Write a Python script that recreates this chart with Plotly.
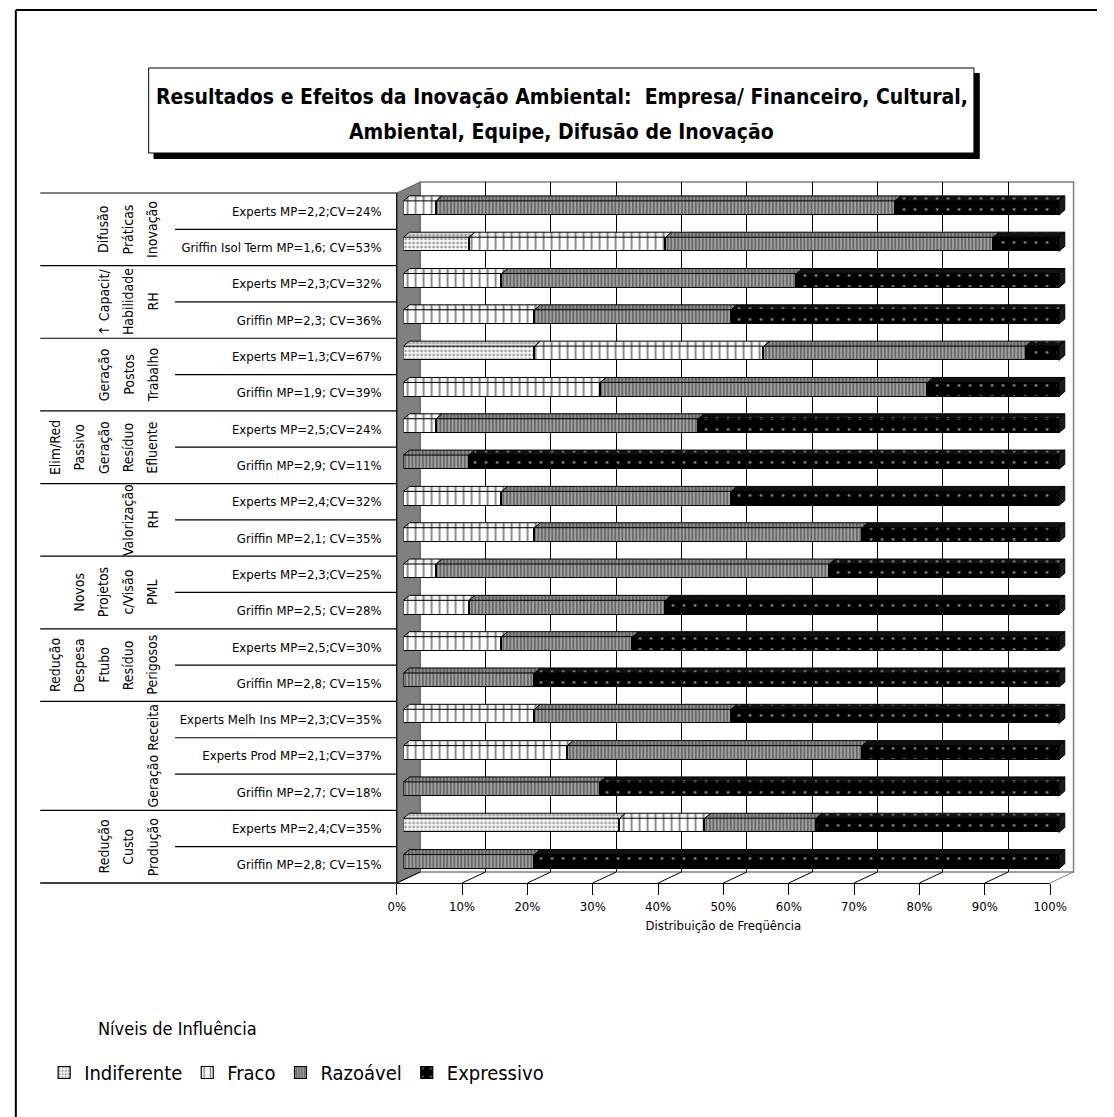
import plotly.graph_objects as go

# ---------------- data ----------------
categories = [
    "Experts MP=2,2;CV=24%",
    "Griffin Isol Term MP=1,6; CV=53%",
    "Experts MP=2,3;CV=32%",
    "Griffin MP=2,3; CV=36%",
    "Experts MP=1,3;CV=67%",
    "Griffin MP=1,9; CV=39%",
    "Experts MP=2,5;CV=24%",
    "Griffin MP=2,9; CV=11%",
    "Experts MP=2,4;CV=32%",
    "Griffin MP=2,1; CV=35%",
    "Experts MP=2,3;CV=25%",
    "Griffin MP=2,5; CV=28%",
    "Experts MP=2,5;CV=30%",
    "Griffin MP=2,8; CV=15%",
    "Experts Melh Ins MP=2,3;CV=35%",
    "Experts Prod MP=2,1;CV=37%",
    "Griffin MP=2,7; CV=18%",
    "Experts MP=2,4;CV=35%",
    "Griffin MP=2,8; CV=15%",
]
indiferente = [0, 10, 0, 0, 20, 0, 0, 0, 0, 0, 0, 0, 0, 0, 0, 0, 0, 33, 0]
fraco       = [5, 30, 15, 20, 35, 30, 5, 0, 15, 20, 5, 10, 15, 0, 20, 25, 0, 13, 0]
razoavel    = [70, 50, 45, 30, 40, 50, 40, 10, 35, 50, 60, 30, 20, 20, 30, 45, 30, 17, 20]
expressivo  = [25, 10, 40, 50, 5, 20, 55, 90, 50, 30, 35, 60, 65, 80, 50, 30, 70, 37, 80]
level_names = ["Indiferente", "Fraco", "Razoável", "Expressivo"]

group_labels = [
    ["Difusão", "Práticas", "Inovação"],
    ["↑ Capacit/", "Habilidade", "RH"],
    ["Geração", "Postos", "Trabalho"],
    ["Elim/Red", "Passivo", "Geração", "Resíduo", "Efluente"],
    ["Valorização", "RH"],
    ["Novos", "Projetos", "c/Visão", "PML"],
    ["Redução", "Despesa", "Ftubo", "Resíduo", "Perigosos"],
    ["Geração Receita"],
    ["Redução", "Custo", "Produção"],
]
group_sizes = [2, 2, 2, 2, 2, 2, 2, 3, 2]

x_ticks = [0, 10, 20, 30, 40, 50, 60, 70, 80, 90, 100]
x_ticktext = ["0%", "10%", "20%", "30%", "40%", "50%", "60%", "70%", "80%", "90%", "100%"]

title_lines = ["Resultados e Efeitos da Inovação Ambiental:  Empresa/ Financeiro, Cultural,",
               "Ambiental, Equipe, Difusão de Inovação"]
x_title = "Distribuição de Freqüência"
legend_title = "Níveis de Influência"

# ---------------- geometry / style ----------------
W, H = 1114, 1117
FONT = "Liberation Sans Narrow, DejaVu Sans Condensed, Arial Narrow, Roboto, sans-serif"


def px(x):
    return x / W


def py(y):
    return 1 - y / H


n = len(categories)
TABLE_TOP, TABLE_BOT = 193, 883
ROW_H = (TABLE_BOT - TABLE_TOP) / n
BAR_X0, PX_PER_PCT = 404, 6.71
XMAX = 102.0
WALL_X0, WALL_X1, WALL_TOP, WALL_BOT = 421, 1090, 182, 872
FLOOR_X0, FLOOR_X1, FLOOR_Y = 397, 1066, 883

BAR_W = 0.39
SHIFT = -3.2 / ROW_H
OFFSET = -BAR_W / 2 + SHIFT
DX = 6 / PX_PER_PCT
DY = 5 / ROW_H

patterns = [
    dict(shape=".", fgcolor="#444444", bgcolor="#ffffff", size=4, solidity=0.4),
    dict(shape="|", fgcolor="#000000", bgcolor="#ffffff", size=8, solidity=0.22),
    dict(shape="|", fgcolor="#1a1a1a", bgcolor="#a0a0a0", size=3.5, solidity=0.42),
    dict(shape=".", fgcolor="#ffffff", bgcolor="#000000", size=11, solidity=0.05),
]
top_patterns = [
    dict(shape=".", fgcolor="#555555", bgcolor="#e6e6e6", size=4, solidity=0.4),
    dict(shape="|", fgcolor="#000000", bgcolor="#f0f0f0", size=8, solidity=0.22),
    dict(shape="|", fgcolor="#222222", bgcolor="#8c8c8c", size=3.5, solidity=0.42),
    dict(shape=".", fgcolor="#cccccc", bgcolor="#111111", size=11, solidity=0.05),
]

levels = [indiferente, fraco, razoavel, expressivo]
rows = list(range(n))

fig = go.Figure()

# invisible helper traces that create the wall subplot (x,y) and the front axis subplot (x3,y3)
fig.add_trace(go.Scatter(x=[0, 100], y=[0, 1], mode="markers", marker=dict(opacity=0),
                         xaxis="x", yaxis="y", showlegend=False, hoverinfo="skip"))
fig.add_trace(go.Scatter(x=[0, 100], y=[0, 0], mode="markers", marker=dict(opacity=0),
                         xaxis="x3", yaxis="y3", showlegend=False, hoverinfo="skip"))

# stacked bars (front faces)
for name, vals, pat in zip(level_names, levels, patterns):
    fig.add_trace(go.Bar(
        y=rows, x=vals, name=name, orientation="h",
        width=BAR_W, offset=OFFSET,
        marker=dict(color=pat["bgcolor"], pattern=pat,
                    line=dict(color="black", width=1.2)),
        xaxis="x2", yaxis="y2", hoverinfo="skip",
    ))

# top faces (3D effect) computed from the stacked values
cum = [0.0] * n
for vals, pat in zip(levels, top_patterns):
    xs, ys = [], []
    for i in rows:
        a, b = cum[i], cum[i] + vals[i]
        if vals[i] > 0:
            yt = i + OFFSET
            xs += [a, a + DX, b + DX, b, a, None]
            ys += [yt, yt - DY, yt - DY, yt, yt, None]
        cum[i] = b
    fig.add_trace(go.Scatter(
        x=xs, y=ys, mode="lines", fill="toself",
        fillcolor=pat["bgcolor"], fillpattern=pat,
        line=dict(color="black", width=1),
        xaxis="x2", yaxis="y2", showlegend=False, hoverinfo="skip",
    ))

# right-end side faces
xs, ys = [], []
for i in rows:
    e = cum[i]
    yt = i + OFFSET
    yb = yt + BAR_W
    xs += [e, e + DX, e + DX, e, e, None]
    ys += [yt, yt - DY, yb - DY, yb, yt, None]
fig.add_trace(go.Scatter(x=xs, y=ys, mode="lines", fill="toself", fillcolor="#1a1a1a",
                         line=dict(color="black", width=1), xaxis="x2", yaxis="y2",
                         showlegend=False, hoverinfo="skip"))

# ---------------- shapes ----------------
shapes = []
# outer frame (top and left edges visible)
shapes.append(dict(type="line", xref="paper", yref="paper", x0=px(7), x1=1,
                   y0=py(10), y1=py(10), line=dict(color="black", width=2)))
shapes.append(dict(type="line", xref="paper", yref="paper", x0=px(7), x1=px(7),
                   y0=py(10), y1=0, line=dict(color="black", width=2)))
# title box with shadow
shapes.append(dict(type="rect", xref="paper", yref="paper", x0=px(148), x1=px(994),
                   y0=py(159), y1=py(73), fillcolor="black", line=dict(width=0)))
shapes.append(dict(type="rect", xref="paper", yref="paper", x0=px(143), x1=px(988),
                   y0=py(153), y1=py(68), fillcolor="white", line=dict(color="black", width=1)))
# back wall
shapes.append(dict(type="rect", xref="x domain", yref="y domain", x0=0, x1=1, y0=0, y1=1,
                   fillcolor="white", line=dict(color="#808080", width=1.5), layer="below"))
# left grey side wall
shapes.append(dict(type="path", xref="paper", yref="paper", layer="below",
                   path=f"M{px(FLOOR_X0)},{py(TABLE_TOP)} L{px(WALL_X0)},{py(WALL_TOP)} "
                        f"L{px(WALL_X0)},{py(WALL_BOT)} L{px(FLOOR_X0)},{py(FLOOR_Y)} Z",
                   fillcolor="#808080", line=dict(color="#606060", width=1)))
# floor diagonals
for t in x_ticks:
    xf = FLOOR_X0 + (FLOOR_X1 - FLOOR_X0) * t / 100
    xb = WALL_X0 + (WALL_X1 - WALL_X0) * t / 100
    shapes.append(dict(type="line", xref="paper", yref="paper", layer="below",
                       x0=px(xf), y0=py(FLOOR_Y), x1=px(xb), y1=py(WALL_BOT),
                       line=dict(color="black" if t < 100 else "#808080", width=1)))
# table lines
shapes.append(dict(type="line", xref="paper", yref="paper", x0=px(FLOOR_X0), x1=px(FLOOR_X0),
                   y0=py(TABLE_TOP), y1=py(TABLE_BOT), line=dict(color="black", width=1.2)))
shapes.append(dict(type="line", xref="paper", yref="paper", x0=px(32), x1=px(FLOOR_X0),
                   y0=py(TABLE_BOT), y1=py(TABLE_BOT), line=dict(color="black", width=1.3)))
start = 0
for gsize in group_sizes:
    yy0 = TABLE_TOP + start * ROW_H
    shapes.append(dict(type="line", xref="paper", yref="paper", x0=px(32), x1=px(FLOOR_X0),
                       y0=py(yy0), y1=py(yy0), line=dict(color="black", width=1.2)))
    for k in range(1, gsize):
        yy = TABLE_TOP + (start + k) * ROW_H
        shapes.append(dict(type="line", xref="paper", yref="paper", x0=px(170), x1=px(FLOOR_X0),
                           y0=py(yy), y1=py(yy), line=dict(color="black", width=1.2)))
    start += gsize

# ---------------- annotations ----------------
annotations = []
for j, line in enumerate(title_lines):
    annotations.append(dict(text=f"<b>{line}</b>", xref="paper", yref="paper",
                            x=px(566), y=py(97 + 35 * j), xanchor="center", yanchor="middle",
                            showarrow=False, font=dict(family=FONT, size=21, color="black")))
start = 0
for lines, gsize in zip(group_labels, group_sizes):
    yc = start + (gsize - 1) / 2
    m = len(lines)
    for j, line in enumerate(lines):
        annotations.append(dict(text=line, xref="paper", yref="y2",
                                x=px(147 - 25 * (m - 1 - j)), y=yc, textangle=-90,
                                xanchor="center", yanchor="middle",
                                showarrow=False, font=dict(family=FONT, size=14, color="black")))
    start += gsize
annotations.append(dict(text=legend_title, xref="paper", yref="paper", x=px(89), y=py(1028),
                        xanchor="left", yanchor="middle", showarrow=False,
                        font=dict(family=FONT, size=18, color="black")))

fig.update_layout(
    width=W, height=H, autosize=False, margin=dict(l=0, r=0, t=0, b=0, pad=0),
    paper_bgcolor="white", plot_bgcolor="rgba(0,0,0,0)",
    barmode="stack", bargap=0,
    font=dict(family=FONT, size=13, color="black"),
    shapes=shapes, annotations=annotations,
    showlegend=True,
    legend=dict(orientation="h", x=px(36), y=py(1053), xanchor="left", yanchor="top",
                traceorder="normal", font=dict(family=FONT, size=20, color="black"),
                bgcolor="rgba(0,0,0,0)", itemwidth=30),
    # back wall
    xaxis=dict(domain=[px(WALL_X0), px(WALL_X1)], range=[0, 100], anchor="y",
               tickvals=x_ticks[1:-1], showgrid=True, gridcolor="black", gridwidth=1,
               showticklabels=False, ticks="", zeroline=False, showline=False, fixedrange=True),
    yaxis=dict(domain=[py(WALL_BOT), py(WALL_TOP)], range=[0, 1], visible=False, fixedrange=True),
    # bars
    xaxis2=dict(domain=[px(BAR_X0), px(BAR_X0 + PX_PER_PCT * XMAX)], range=[0, XMAX],
                anchor="y2", visible=False, fixedrange=True),
    yaxis2=dict(domain=[py(TABLE_BOT), py(TABLE_TOP)], range=[n - 0.5, -0.5], anchor="x2",
                tickvals=rows, ticktext=categories, ticks="", showgrid=False, zeroline=False,
                showline=False, ticklabelstandoff=21, tickfont=dict(family=FONT, size=13),
                fixedrange=True),
    # front axis
    xaxis3=dict(domain=[px(FLOOR_X0), px(FLOOR_X1)], range=[0, 100], anchor="y3",
                tickvals=x_ticks, ticktext=x_ticktext, ticks="outside", ticklen=11,
                tickcolor="black", tickwidth=1, showline=True, linecolor="black", linewidth=1.3,
                showgrid=False, zeroline=False, tickfont=dict(family=FONT, size=13),
                title=dict(text=x_title, font=dict(family=FONT, size=13), standoff=8),
                fixedrange=True),
    yaxis3=dict(domain=[py(FLOOR_Y), py(FLOOR_Y - 5)], range=[0, 1], visible=False,
                anchor="x3", fixedrange=True),
)

fig.write_html("out.html", config={"responsive": False, "displayModeBar": False},
               post_script="document.body.style.margin='0';document.body.style.overflow='hidden';")
